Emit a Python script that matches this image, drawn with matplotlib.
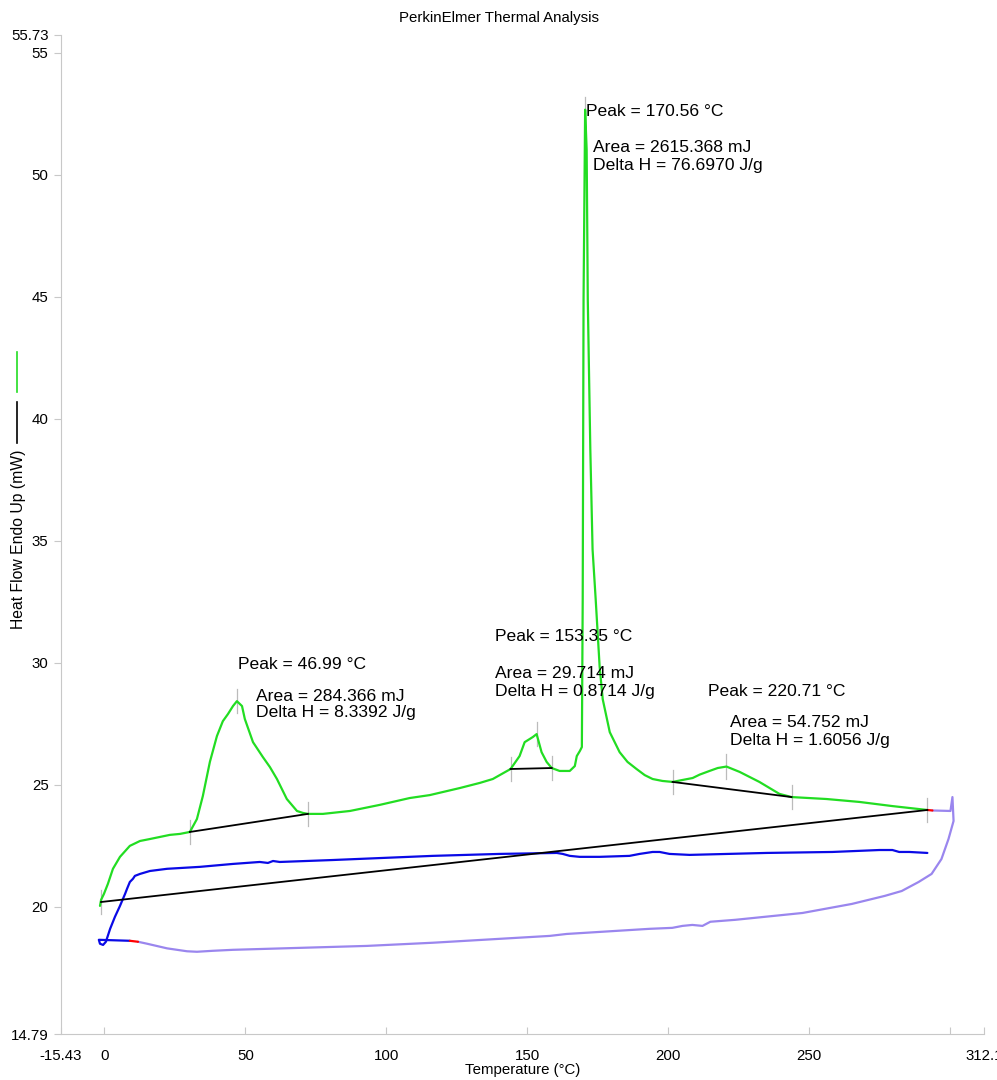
import numpy as np
import matplotlib
matplotlib.use("Agg")
import matplotlib.pyplot as plt
from matplotlib.lines import Line2D

plt.rcParams['font.family'] = ['Liberation Sans', 'DejaVu Sans']

# heating run 1 (green)
heat_T = [-1.6, -1.2, -0.2, 1.2, 3.0, 5.5, 9.0, 12.6, 16.1, 23.2, 26.8, 30.3,
          32.8, 34.9, 37.4, 39.9, 42.0, 43.8, 45.6, 46.99, 48.8, 49.8, 52.7,
          56.2, 58.7, 61.2, 64.7, 68.3, 70.4, 72.2, 77.5, 87.1, 97.7,
          108.3, 115.4, 126.1, 133.2, 137.8, 144.1, 147.3, 149.1, 150.9, 152.0,
          153.35, 155.1, 156.9, 158.7, 161.5, 165.1, 166.9, 167.6, 168.7, 169.4,
          169.7, 170.0, 170.56, 171.1, 171.5, 172.4, 173.2, 174.3, 175.7, 176.8,
          179.3, 182.8, 185.6, 188.8, 191.7, 194.5, 198.0, 201.6, 205.1, 208.7,
          211.2, 214.7, 217.6, 220.71, 225.4, 232.4, 239.5, 243.8, 256.2, 267.9,
          279.6, 292.0]
heat_Q = [20.04, 20.29, 20.53, 20.94, 21.56, 22.05, 22.50, 22.70, 22.78, 22.95,
          22.99, 23.07, 23.60, 24.54, 25.94, 27.00, 27.61, 27.90, 28.23, 28.43,
          28.23, 27.70, 26.75, 26.14, 25.73, 25.24, 24.42, 23.93, 23.85, 23.81,
          23.81, 23.93, 24.18, 24.46, 24.58, 24.87, 25.08, 25.24, 25.65, 26.18,
          26.75, 26.88, 26.96, 27.08, 26.34, 25.94, 25.69, 25.57, 25.57, 25.77,
          26.18, 26.39, 26.55, 32.6, 44.9, 52.67, 51.03, 44.89, 38.75, 34.65,
          32.61, 29.86, 28.51, 27.16, 26.34, 25.94, 25.65, 25.40, 25.24, 25.16,
          25.12, 25.20, 25.28, 25.42, 25.57, 25.69, 25.75, 25.53, 25.12, 24.63,
          24.50, 24.42, 24.30, 24.13, 23.97]

# short red joins
red1_T = [292.0, 293.8]
red1_Q = [23.97, 23.95]
red2_T = [9.0, 11.9]
red2_Q = [18.61, 18.57]

# run 2 (lavender)
lav_T = [293.8, 300.2, 300.9, 301.3, 299.5, 297.0, 293.5, 288.9, 282.9, 276.9,
         265.2, 247.7, 223.9, 215.0, 212.2, 208.6, 205.1, 201.5, 193.4, 176.6,
         164.0, 158.0, 140.2, 116.5, 93.1, 69.3, 45.6, 38.5, 32.8, 29.3, 22.2,
         15.1, 11.9]
lav_Q = [23.95, 23.93, 24.50, 23.52, 22.78, 21.96, 21.35, 21.02, 20.65, 20.45,
         20.12, 19.75, 19.47, 19.39, 19.22, 19.26, 19.22, 19.14, 19.10, 18.98,
         18.89, 18.81, 18.69, 18.53, 18.40, 18.32, 18.24, 18.20, 18.16, 18.18,
         18.30, 18.49, 18.57]

# run 3 (blue)
blue_T = [9.0, -2.0, -1.6, -0.5, 0.5, 2.0, 3.7, 5.5, 7.3, 8.0, 9.0, 10.1, 10.8,
          12.6, 16.1, 22.2, 33.9, 45.6, 55.1, 58.0, 59.8, 62.2, 81.0, 116.5,
          140.2, 160.5, 162.6, 165.1, 168.6, 175.7, 186.3, 189.9, 194.5, 197.0,
          200.5, 207.6, 234.9, 258.3, 275.0, 279.6, 282.0, 285.6, 292.0]
blue_Q = [18.61, 18.65, 18.49, 18.44, 18.57, 19.10, 19.59, 20.04, 20.53, 20.74,
          21.02, 21.15, 21.27, 21.35, 21.47, 21.56, 21.64, 21.76, 21.84, 21.80,
          21.88, 21.84, 21.92, 22.09, 22.17, 22.21, 22.17, 22.09, 22.05, 22.05,
          22.09, 22.17, 22.25, 22.25, 22.17, 22.13, 22.21, 22.25, 22.33, 22.33,
          22.25, 22.25, 22.21]

# integration baselines (start T, start Q, end T, end Q)
base_T0 = [30.3, 144.1, 201.6, -1.2]
base_Q0 = [23.07, 25.65, 25.12, 20.20]
base_T1 = [72.2, 158.7, 243.8, 292.0]
base_Q1 = [23.81, 25.69, 24.50, 23.97]

# small marker ticks at limits and peaks
mark_T = [30.3, 72.2, 46.99, 144.1, 158.7, 153.35, 201.6, 243.8, 220.71,
          -1.2, 292.0, 170.56]
mark_Q = [23.07, 23.81, 28.43, 25.65, 25.69, 27.08, 25.12, 24.50, 25.75,
          20.20, 23.97, 52.67]

# peak annotations
peak_lbl = ["Peak = 46.99 °C", "Peak = 153.35 °C", "Peak = 170.56 °C", "Peak = 220.71 °C"]
peak_xy = [(47.3, 29.74), (138.5, 30.89), (170.7, 52.42), (214.0, 28.64)]
area_lbl = ["Area = 284.366 mJ", "Area = 29.714 mJ", "Area = 2615.368 mJ", "Area = 54.752 mJ"]
dh_lbl = ["Delta H = 8.3392 J/g", "Delta H = 0.8714 J/g", "Delta H = 76.6970 J/g",
          "Delta H = 1.6056 J/g"]
area_xy = [(53.6, 28.43), (138.5, 29.37), (173.2, 50.93), (221.8, 27.37)]
dh_y = [27.78, 28.64, 50.19, 26.63]

xticks = [-15.43, 0, 50, 100, 150, 200, 250, 300, 312.1]
xtick_lbl = ["-15.43", "0", "50", "100", "150", "200", "250", "", "312.1"]
yticks = [14.79, 20, 25, 30, 35, 40, 45, 50, 55, 55.73]
ytick_lbl = ["14.79", "20", "25", "30", "35", "40", "45", "50", "55", "55.73"]

GREEN = '#22dd22'
BLUE = '#0a0ae6'
LAV = '#9a86ee'
GRAY = '#c8c8c8'

fig = plt.figure(figsize=(9.97, 10.8), dpi=100)
ax = fig.add_axes([61 / 997, 46 / 1080, 923 / 997, 999 / 1080])

kw = dict(lw=1.6, solid_joinstyle='round', solid_capstyle='round')
ax.plot(lav_T, lav_Q, color=LAV, zorder=2, **kw)
ax.plot(blue_T, blue_Q, color=BLUE, zorder=3, **kw)
ax.plot(red2_T, red2_Q, color='red', zorder=4, **kw)
ax.plot(heat_T, heat_Q, color=GREEN, zorder=3, **kw)
ax.plot(red1_T, red1_Q, color='red', zorder=4, **kw)

for t0, q0, t1, q1 in zip(base_T0, base_Q0, base_T1, base_Q1):
    ax.plot([t0, t1], [q0, q1], color='black', lw=1.3, zorder=5)

for t, q in zip(mark_T, mark_Q):
    ax.plot([t, t], [q - 0.5, q + 0.5], color='#bbbbbb', lw=0.9, zorder=1)

for i in range(4):
    ax.text(peak_xy[i][0], peak_xy[i][1], peak_lbl[i], fontsize=12.6, va='baseline', ha='left')
    ax.text(area_xy[i][0], area_xy[i][1], area_lbl[i], fontsize=12.6, va='baseline', ha='left')
    ax.text(area_xy[i][0], dh_y[i], dh_lbl[i], fontsize=12.6, va='baseline', ha='left')

ax.set_xlim(-15.43, 312.1)
ax.set_ylim(14.79, 55.73)
ax.set_xticks(xticks)
ax.set_xticklabels(xtick_lbl)
ax.set_yticks(yticks)
ax.set_yticklabels(ytick_lbl)
ax.tick_params(axis='x', direction='in', length=5, color=GRAY, labelsize=10.8, pad=11)
ax.tick_params(axis='y', direction='out', length=5, color=GRAY, labelsize=10.8, pad=4)
for s in ['top', 'right']:
    ax.spines[s].set_visible(False)
for s in ['left', 'bottom']:
    ax.spines[s].set_color(GRAY)

ax.set_xlabel("Temperature (°C)", fontsize=10.8)
ax.xaxis.set_label_coords(0.5, -0.029)
ax.set_ylabel("Heat Flow Endo Up (mW)", fontsize=11.3)
ax.yaxis.set_label_coords(-0.038, 0.495)
fig.text(0.5, 1 - 18 / 1080, "PerkinElmer Thermal Analysis", fontsize=10.8,
         ha='center', va='center')

# curve keys next to the y label
fig.add_artist(Line2D([17 / 997, 17 / 997], [1 - 352 / 1080, 1 - 392 / 1080],
                      color=GREEN, lw=1.2, transform=fig.transFigure))
fig.add_artist(Line2D([17 / 997, 17 / 997], [1 - 402 / 1080, 1 - 443 / 1080],
                      color='black', lw=1.2, transform=fig.transFigure))

fig.savefig("out.png", dpi=100)
